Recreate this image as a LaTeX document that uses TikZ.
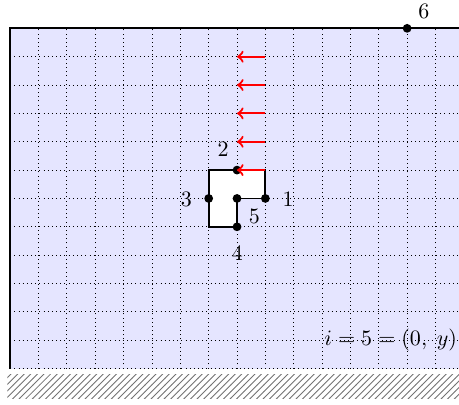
\documentclass[tikz,border=0pt]{standalone}
\usetikzlibrary{patterns}
\begin{document}
\begin{tikzpicture}[x=12.9pt,y=12.9pt,
  gridline/.style={line width=0.4pt, dash pattern=on 0.4pt off 1.5pt, step=12.9pt},
  border/.style={thick},
  dot/.style={circle, fill=black, inner sep=0pt, minimum size=4pt},
  shapeline/.style={thick},
  push/.style={red, line width=1pt, ->},
  lbl/.style={inner sep=0pt}]
\useasboundingbox (-0.36,-1.28) rectangle (15.83,13.0);
% region and grid
\fill[blue!10] (0,0) rectangle (15.83,12);
\draw[gridline] (0,0) grid (15.83,12);
\fill[pattern=north east lines, pattern color=black!55] (-0.1,-1.05) rectangle (15.83,-0.2);
% border
\coordinate (bl) at (0,0);
\coordinate (tl) at (0,12);
\coordinate (tr) at (15.83,12);
\draw[border] (bl) -- (tl) -- (tr);
% polygon
\coordinate (c1) at (9,7);
\coordinate (c2) at (7,5);
\coordinate (c3) at (7,7);
\coordinate (q1) at (9,6);
\coordinate (q2) at (8,7);
\coordinate (q3) at (7,6);
\coordinate (q4) at (8,5);
\coordinate (q5) at (8,6);
\filldraw[fill=white, shapeline] (c1) -- (q1) -- (q5) -- (q4) -- (c2) -- (q3) -- (c3) -- (q2) -- cycle;
\node[dot] (p1) at (q1) {};
\node[dot] (p2) at (q2) {};
\node[dot] (p3) at (q3) {};
\node[dot] (p4) at (q4) {};
\node[dot] (p5) at (q5) {};
\node[dot] (p6) at (14,12) {};
% arrows
\foreach \k in {7,...,11}{
  \coordinate (a\k) at (9,\k);
  \coordinate (b\k) at (8,\k);
  \draw[push] (a\k) -- (b\k);
}
% labels
\node[lbl] (l1) at (9.8,5.98) {1};
\node[lbl] (l2) at (7.51,7.74) {2};
\node[lbl] (l3) at (6.21,5.98) {3};
\node[lbl] (l4) at (8.01,4.08) {4};
\node[lbl] (l5) at (8.61,5.38) {5};
\node[lbl] (l6) at (14.59,12.6) {6};
\node[lbl] (eq) at (13.42,1.0) {$i=5=(0,\;y)$};
\end{tikzpicture}
\end{document}
